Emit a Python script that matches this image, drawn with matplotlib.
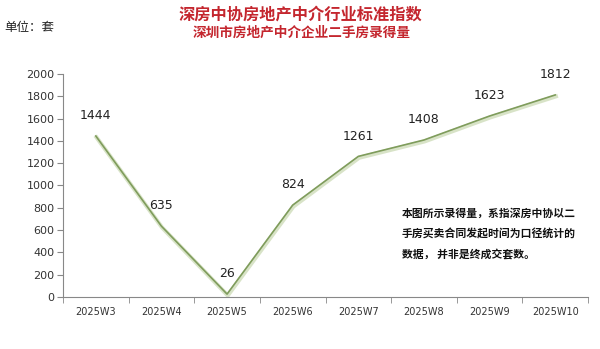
import matplotlib
matplotlib.use('Agg')
from matplotlib import pyplot as plt
import matplotlib.patheffects as pe

weeks = ['2025W3', '2025W4', '2025W5', '2025W6', '2025W7', '2025W8', '2025W9', '2025W10']
counts = [1444, 635, 26, 824, 1261, 1408, 1623, 1812]
yticks = list(range(0, 2001, 200))

title = '深房中协房地产中介行业标准指数'
subtitle = '深圳市房地产中介企业二手房录得量'
unit = '单位：套'
note = '本图所示录得量，系指深房中协以二\n手房买卖合同发起时间为口径统计的\n数据， 并非是终成交套数。'

plt.rcParams['font.family'] = ['Noto Sans CJK SC', 'DejaVu Sans']

fig = plt.figure(figsize=(6, 3.49), dpi=100)
ax = fig.add_axes([0.105, 0.149, 0.875, 0.639])

x = list(range(len(weeks)))
ax.plot(x, counts, color='#7f9c5c', lw=1.2,
        path_effects=[pe.SimpleLineShadow(offset=(0.5, -1), shadow_color='#c8d8b0', alpha=0.7,
                                          linewidth=3),
                      pe.Normal()])
for xi, v in zip(x, counts):
    ax.annotate(str(v), (xi, v), xytext=(0, 10), textcoords='offset points',
                ha='center', va='bottom', fontsize=9, color='#222222',
                family='DejaVu Sans')

ax.set_xlim(-0.5, len(weeks) - 0.5)
ax.set_ylim(0, 2000)
ax.set_yticks(yticks)
ax.set_yticklabels([str(t) for t in yticks], fontsize=8, color='#333333',
                   family='DejaVu Sans')
ax.set_xticks(x)
ax.set_xticklabels(weeks, fontsize=7, color='#333333', family='DejaVu Sans')
ax.set_xticks([i - 0.5 for i in range(len(weeks) + 1)], minor=True)
ax.tick_params(axis='x', which='major', length=0, pad=7)
ax.tick_params(axis='x', which='minor', length=4, color='#888888')
ax.tick_params(axis='y', length=4, color='#888888', pad=2)
for s in ['top', 'right']:
    ax.spines[s].set_visible(False)
for s in ['left', 'bottom']:
    ax.spines[s].set_color('#888888')

fig.text(0.5, 0.958, title, ha='center', va='center', fontsize=11.7,
         fontweight='bold', color='#c4262e')
fig.text(0.503, 0.907, subtitle, ha='center', va='center', fontsize=9.8,
         fontweight='bold', color='#c4262e')
fig.text(0.008, 0.92, unit, ha='left', va='center', fontsize=9, color='#222222')
fig.text(0.67, 0.402, note, ha='left', va='top', fontsize=7.8,
         fontweight='bold', color='#111111', linespacing=2.0)

fig.savefig('out.png', dpi=100)
